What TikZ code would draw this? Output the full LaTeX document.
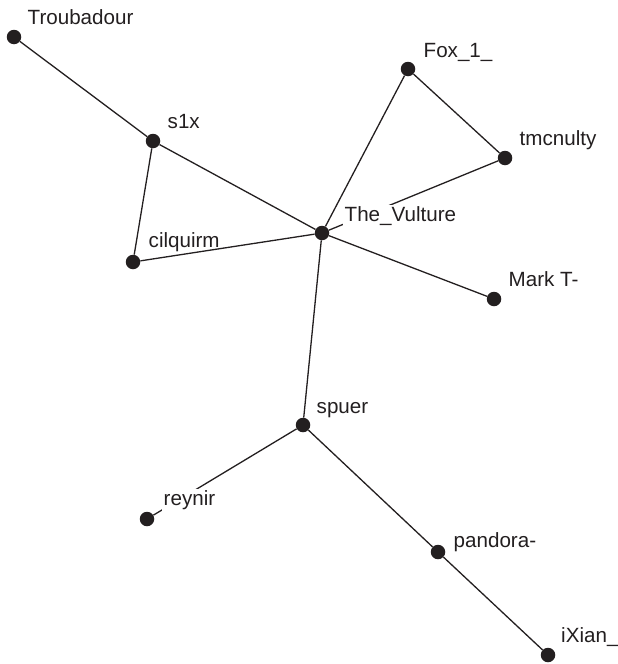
\documentclass[tikz,border=0pt]{standalone}
\usepackage{fontspec}
\setmainfont{Liberation Sans}
\usepackage{xcolor}
\usetikzlibrary{positioning}
\definecolor{ink}{HTML}{231F20}

\begin{document}
\begin{tikzpicture}[
    x=1pt, y=-1pt,
    dot/.style={circle,fill=ink,minimum size=14.5pt,inner sep=0pt},
    lbl/.style={fill=white,inner sep=1.5pt,anchor=base west,text=ink,font=\fontsize{20.6}{24}\selectfont},
    edge/.style={draw=ink,line width=1.3pt},
]
    \useasboundingbox (0,0) rectangle (618,664);
    % vertices
    \node[dot] (troub) at (14,37) {};
    \node[dot] (sonex) at (153,141) {};
    \node[dot] (fox) at (408,69) {};
    \node[dot] (tmc) at (505,158) {};
    \node[dot] (vult) at (322,233) {};
    \node[dot] (cilq) at (133,262) {};
    \node[dot] (markt) at (494,299) {};
    \node[dot] (spuer) at (303,425) {};
    \node[dot] (reyn) at (147,519) {};
    \node[dot] (pand) at (438,552) {};
    \node[dot] (ixian) at (548,655) {};

    % links
    \draw[edge] (troub) -- (sonex);
    \draw[edge] (sonex) -- (cilq);
    \draw[edge] (sonex) -- (vult);
    \draw[edge] (cilq) -- (vult);
    \draw[edge] (vult) -- (fox);
    \draw[edge] (fox) -- (tmc);
    \draw[edge] (tmc) -- (vult);
    \draw[edge] (vult) -- (markt);
    \draw[edge] (vult) -- (spuer);
    \draw[edge] (spuer) -- (reyn);
    \draw[edge] (spuer) -- (pand);
    \draw[edge] (pand) -- (ixian);

    % names
    \node[lbl] (troublbl) at (26,24) {Troubadour};
    \node[lbl] (sonexlbl) at (166,128) {s1x};
    \node[lbl] (foxlbl) at (422,57) {Fox\_1\_};
    \node[lbl] (tmclbl) at (518,145) {tmcnulty};
    \node[lbl] (vultlbl) at (343,221) {The\_Vulture};
    \node[lbl,fill=none] (cilqlbl) at (147,247) {cilquirm};
    \node[lbl] (marktlbl) at (507,286) {Mark T-};
    \node[lbl] (spuerlbl) at (315,413) {spuer};
    \node[lbl] (reynlbl) at (162,505) {reynir};
    \node[lbl] (pandlbl) at (452,547) {pandora-};
    \node[lbl] (ixianlbl) at (559.5,642) {iXian\_};
\end{tikzpicture}
\end{document}
